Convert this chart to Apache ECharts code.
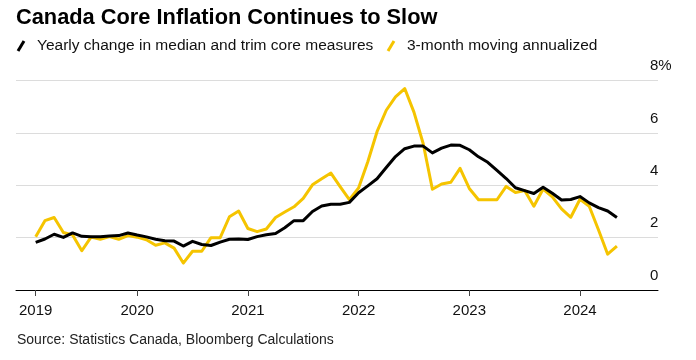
<!DOCTYPE html>
<html>
<head>
<meta charset="utf-8">
<script src="https://cdn.jsdelivr.net/npm/echarts@6/dist/echarts.min.js"></script>
<style>
html,body{margin:0;padding:0;background:#fff;}
#chart{width:696px;height:360px;}
</style>
</head>
<body>
<div id="chart"></div>
<script>
// Months Jan 2019 .. Apr 2024 (64 monthly observations)
var startYear = 2019;
var monthCount = 64;

// Yearly change in median and trim core measures (%)
var yearlyChange = [
  1.82, 1.95, 2.13, 2.01, 2.18, 2.05, 2.04, 2.04, 2.06, 2.08, 2.18, 2.10,
  2.03, 1.94, 1.88, 1.87, 1.68, 1.86, 1.74, 1.70, 1.83, 1.94, 1.95, 1.93,
  2.04, 2.11, 2.16, 2.38, 2.65, 2.65, 3.00, 3.21, 3.28, 3.28, 3.35, 3.72,
  3.98, 4.25, 4.68, 5.10, 5.40, 5.50, 5.50, 5.24, 5.42, 5.54, 5.53, 5.36,
  5.09, 4.88, 4.57, 4.26, 3.91, 3.80, 3.69, 3.93, 3.70, 3.44, 3.46, 3.57,
  3.33, 3.15, 3.02, 2.77
];

// 3-month moving annualized (%)
var threeMonthAnn = [
  2.04, 2.65, 2.77, 2.20, 2.10, 1.50, 2.02, 1.94, 2.04, 1.94, 2.08, 2.02,
  1.92, 1.71, 1.80, 1.60, 1.03, 1.48, 1.48, 2.00, 2.00, 2.80, 3.02, 2.35,
  2.23, 2.33, 2.77, 2.98, 3.18, 3.50, 4.02, 4.25, 4.47, 3.95, 3.45, 3.90,
  4.90, 6.05, 6.87, 7.38, 7.70, 6.80, 5.60, 3.85, 4.05, 4.12, 4.65, 3.88,
  3.45, 3.45, 3.45, 3.96, 3.73, 3.80, 3.20, 3.86, 3.56, 3.10, 2.78, 3.47,
  3.20, 2.30, 1.37, 1.68
];

var yearTickLabels = ['2019', '2020', '2021', '2022', '2023', '2024'];
var yTickValues = [0, 2, 4, 6, 8];

var titleText = 'Canada Core Inflation Continues to Slow';
var legendNames = ['Yearly change in median and trim core measures', '3-month moving annualized'];
var sourceText = 'Source: Statistics Canada, Bloomberg Calculations';

var BLACK = '#000000';
var YELLOW = '#F5C400';
var FONT = '"Liberation Sans", Arial, Helvetica, sans-serif';

// each monthly value plotted at month end (months since Jan 1 of startYear)
function toPoints(arr) {
  return arr.map(function (v, i) { return [i + 1, v]; });
}
// year ticks: first one clamped to data start
var tickPositions = yearTickLabels.map(function (y, i) { return i === 0 ? 1 : i * 12; });

var chart = echarts.init(document.getElementById('chart'), null, {renderer: 'canvas'});
chart.setOption({
  animation: false,
  backgroundColor: '#ffffff',
  textStyle: {fontFamily: FONT},
  grid: {left: 16, right: 38, top: 80.7, bottom: 70, containLabel: false},
  xAxis: {
    type: 'value',
    min: -1.135,
    max: 68.455,
    axisLine: {show: true, lineStyle: {color: '#000', width: 1}},
    axisTick: {show: true, length: 6, customValues: tickPositions, lineStyle: {color: '#444', width: 1}},
    axisLabel: {
      show: true,
      customValues: tickPositions,
      margin: 13,
      fontSize: 15,
      color: '#111',
      fontFamily: FONT,
      formatter: function (v) {
        var idx = tickPositions.indexOf(v);
        return idx >= 0 ? yearTickLabels[idx] : '';
      }
    },
    splitLine: {show: false}
  },
  yAxis: {
    type: 'value',
    position: 'right',
    min: 0,
    max: 8,
    interval: 2,
    axisLine: {show: false},
    axisTick: {show: false},
    axisLabel: {
      margin: -8,
      align: 'left',
      verticalAlign: 'bottom',
      lineHeight: 29,
      fontSize: 15,
      color: '#111',
      fontFamily: FONT,
      formatter: function (v) { return v === 8 ? v + '%' : String(v); }
    },
    splitLine: {show: true, lineStyle: {color: '#dcdcdc', width: 1}}
  },
  series: [
    {
      name: legendNames[0],
      type: 'line',
      data: toPoints(yearlyChange),
      showSymbol: false,
      z: 4,
      lineStyle: {color: BLACK, width: 3, join: 'round'},
      itemStyle: {color: BLACK}
    },
    {
      name: legendNames[1],
      type: 'line',
      data: toPoints(threeMonthAnn),
      showSymbol: false,
      z: 3,
      lineStyle: {color: YELLOW, width: 3, join: 'round'},
      itemStyle: {color: YELLOW}
    }
  ],
  graphic: [
    {type: 'text', left: 16, top: 7, style: {text: titleText, font: 'bold 21.8px ' + FONT, fill: '#000'}},
    {type: 'line', shape: {x1: 18, y1: 51, x2: 24, y2: 41}, style: {stroke: BLACK, lineWidth: 3}},
    {type: 'text', left: 37, top: 38, style: {text: legendNames[0], font: '15.5px ' + FONT, fill: '#111'}},
    {type: 'line', shape: {x1: 388, y1: 51, x2: 394, y2: 41}, style: {stroke: YELLOW, lineWidth: 3}},
    {type: 'text', left: 407, top: 38, style: {text: legendNames[1], font: '15.5px ' + FONT, fill: '#111'}},
    {type: 'text', left: 17, top: 333, style: {text: sourceText, font: '14px ' + FONT, fill: '#222'}}
  ]
});
</script>
</body>
</html>
